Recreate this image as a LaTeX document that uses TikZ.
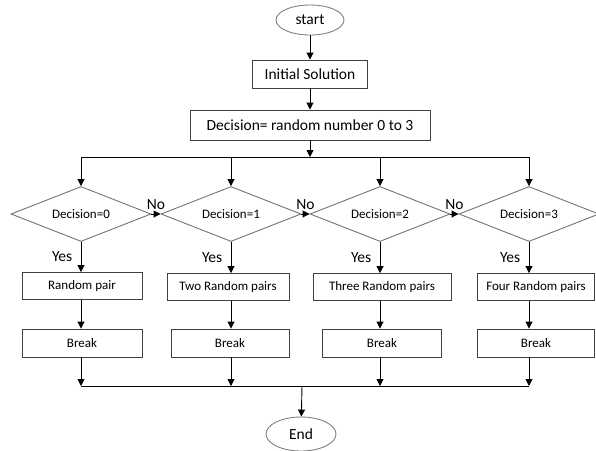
\documentclass[tikz,border=0pt]{standalone}
\usepackage{fontspec}
\setmainfont{Carlito}
\usetikzlibrary{
    arrows.meta,
    shapes.geometric,
    positioning
}

\begin{document}
\begin{tikzpicture}[x=1pt, y=-1pt, >={Triangle[length=7pt,width=7pt]}, line width=0.9pt,
    every node/.style={font=\fontsize{15.5}{18}\selectfont},
    term/.style={ellipse, draw=gray, minimum width=68pt, minimum height=30pt, inner sep=0pt},
    proc/.style={rectangle, draw=black!75, minimum height=28pt, inner sep=0pt},
    act/.style={proc, minimum height=27pt, font=\fontsize{13}{15}\selectfont},
    test/.style={diamond, draw=black!55, aspect=2.5, minimum width=140pt, minimum height=55pt, inner sep=0pt, font=\fontsize{13}{15}\selectfont}]
    \useasboundingbox (0,0) rectangle (596,450);

    \node[term] (start) at (310,20) {start};
    \node[proc, minimum width=115pt] (init) at (310,74) {Initial Solution};
    \node[proc, minimum width=240pt, minimum height=30pt] (dec) at (310,125) {Decision= random number 0 to 3};
    \coordinate (split) at (310,157);

    \node[test] (d0) at (81,214) {Decision=0};
    \node[test] (d1) at (231,214) {Decision=1};
    \node[test] (d2) at (380,214) {Decision=2};
    \node[test] (d3) at (529,214) {Decision=3};

    \node[act, minimum width=120pt] (a0) at (82,286) {Random pair};
    \node[act, minimum width=122pt] (a1) at (228,287) {Two Random pairs};
    \node[act, minimum width=138pt] (a2) at (382,287) {Three Random pairs};
    \node[act, minimum width=117pt] (a3) at (536,287) {Four Random pairs};

    \node[act, minimum width=120pt, minimum height=28pt] (b0) at (82,343) {Break};
    \node[act, minimum width=118pt, minimum height=28pt] (b1) at (230,343) {Break};
    \node[act, minimum width=119pt, minimum height=28pt] (b2) at (382,343) {Break};
    \node[act, minimum width=117pt, minimum height=28pt] (b3) at (536,343) {Break};

    \coordinate (join) at (302,386);
    \node[term, minimum width=70pt, minimum height=34pt] (end) at (301,434) {End};

    \draw
    (start) edge[->] (init)
    (init) edge[->] (dec)
    (dec) edge[->] (split);
    \draw (d0.north |- split) -- (d3.north |- split);

    \draw
    (d0.east) edge[->] node[above=1pt]{No} (d1.west)
    (d1.east) edge[->] node[above=1pt]{No} (d2.west)
    (d2.east) edge[->] node[above=1pt]{No} (d3.west);

    \foreach \i in {0,...,3} {
        \draw[->] (d\i.north |- split) -- (d\i.north);
        \draw[->] (d\i.south) -- node[left=5pt]{Yes} (d\i.south |- a\i.north);
        \draw[->] (d\i.south |- a\i.south) -- (d\i.south |- b\i.north);
        \draw[->] (d\i.south |- b\i.south) -- (d\i.south |- join);
    }
    \draw (d0.south |- join) -- (d3.south |- join);
    \draw[->] (join) -- (end);
\end{tikzpicture}
\end{document}
